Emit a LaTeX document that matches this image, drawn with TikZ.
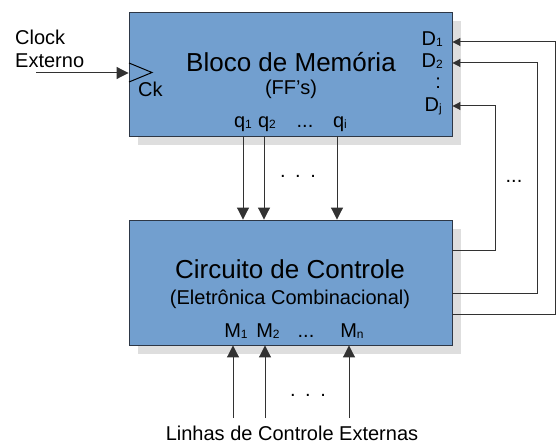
\documentclass[tikz,border=0pt]{standalone}
\usepackage{fontspec}
\setmainfont{Liberation Sans}
\usetikzlibrary{arrows.meta,shadows}
\definecolor{blocoazul}{RGB}{114,159,207}
\definecolor{bordaescura}{RGB}{45,55,70}
\definecolor{sombra}{RGB}{222,222,222}
\definecolor{linha}{RGB}{50,50,50}
\newcommand{\ind}[1]{\raisebox{-1pt}{\fontsize{12}{14}\selectfont #1}}

\begin{document}
\begin{tikzpicture}[x=1pt,y=-1pt,
    bloco/.style={draw=bordaescura, fill=blocoazul, line width=0.9pt, minimum width=323pt, minimum height=124pt, inner sep=0pt,
      drop shadow={shadow xshift=9pt, shadow yshift=-9pt, fill=sombra, opacity=1}},
    titulo/.style={font=\fontsize{26}{30}\selectfont, anchor=base, inner sep=0pt},
    texto/.style={font=\fontsize{20}{24}\selectfont, anchor=base, inner sep=0pt},
    rotulo/.style={font=\fontsize{20}{24}\selectfont, anchor=base, inner sep=0pt},
    seta/.style={draw=linha, line width=1pt, -{Triangle[length=12pt, width=12pt]}},
    retorno/.style={draw=linha, line width=1pt, -{Triangle[length=8pt, width=8pt]}}]
  \useasboundingbox (0,0) rectangle (556,443);

  % Blocos principais
  \node[bloco] (mem) at (290.5,74) {};
  \node[bloco, minimum height=125pt] (ctrl) at (290.5,282.5) {};

  \node[titulo] (memt) at (291,72) {Bloco de Memória};
  \node[texto] (mems) at (291,95) {(FF's)};
  \node[titulo] (ctrlt) at (290,278) {Circuito de Controle};
  \node[texto] (ctrls) at (290,304) {(Eletrônica Combinacional)};

  % Clock externo
  \node[rotulo, anchor=base west] (clock) at (15,45) {Clock};
  \node[rotulo, anchor=base west] (externo) at (15,68) {Externo};
  \coordinate (clk) at (36,73);
  \draw[seta] (clk) -- (mem.west |- clk);
  \draw[draw=black, line width=1pt] (129,63) -- (152,72.5) -- (129,82);
  \node[rotulo, anchor=base west] (ck) at (138,97) {Ck};

  % Saidas q dos flip-flops
  \foreach \x/\s/\d in {243/1/0,264/2/3,337/i/3} {
    \node[rotulo] (q\s) at (\x+\d,128) {q\ind{\s}};
    \draw[seta] (mem.south -| \x,0) -- (ctrl.north -| \x,0);
  }
  \node[rotulo] (qd) at (305,128) {...};
  \node[texto] (qpts) at (298,178) {.\hspace{9.5pt}.\hspace{9.5pt}.};

  % Entradas D
  \node[rotulo, anchor=base east] (d1) at (443,46) {D\ind{1}};
  \node[rotulo, anchor=base east] (d2) at (443,68) {D\ind{2}};
  \node[rotulo, anchor=base east] (dd) at (441,89) {:};
  \node[rotulo, anchor=base east] (dj) at (442,112) {D\ind{j}};

  % Linhas de retorno
  \coordinate (r1) at (555,42);
  \coordinate (r2) at (537,63);
  \coordinate (rj) at (495,106);
  \draw[retorno] ([yshift=-31.5pt]ctrl.east) -| (r1) -- (mem.east |- r1);
  \draw[retorno] ([yshift=-10.5pt]ctrl.east) -| (r2) -- (mem.east |- r2);
  \draw[retorno] ([yshift=31.5pt]ctrl.east) -| (rj) -- (mem.east |- rj);
  \node[texto] (rpts) at (514,183) {...};

  % Linhas de controle externas
  \foreach \x/\s in {233/1,265/2,349/n} {
    \node[rotulo] (m\s) at (\x+3,337) {M\ind{\s}};
    \coordinate (b\s) at (\x,418);
    \draw[seta] (b\s) -- (ctrl.south -| b\s);
  }
  \node[rotulo] (md) at (306,337) {...};
  \node[texto] (mpts) at (308,396) {.\hspace{9.5pt}.\hspace{9.5pt}.};
  \node[texto] (ext) at (292,440) {Linhas de Controle Externas};
\end{tikzpicture}
\end{document}
